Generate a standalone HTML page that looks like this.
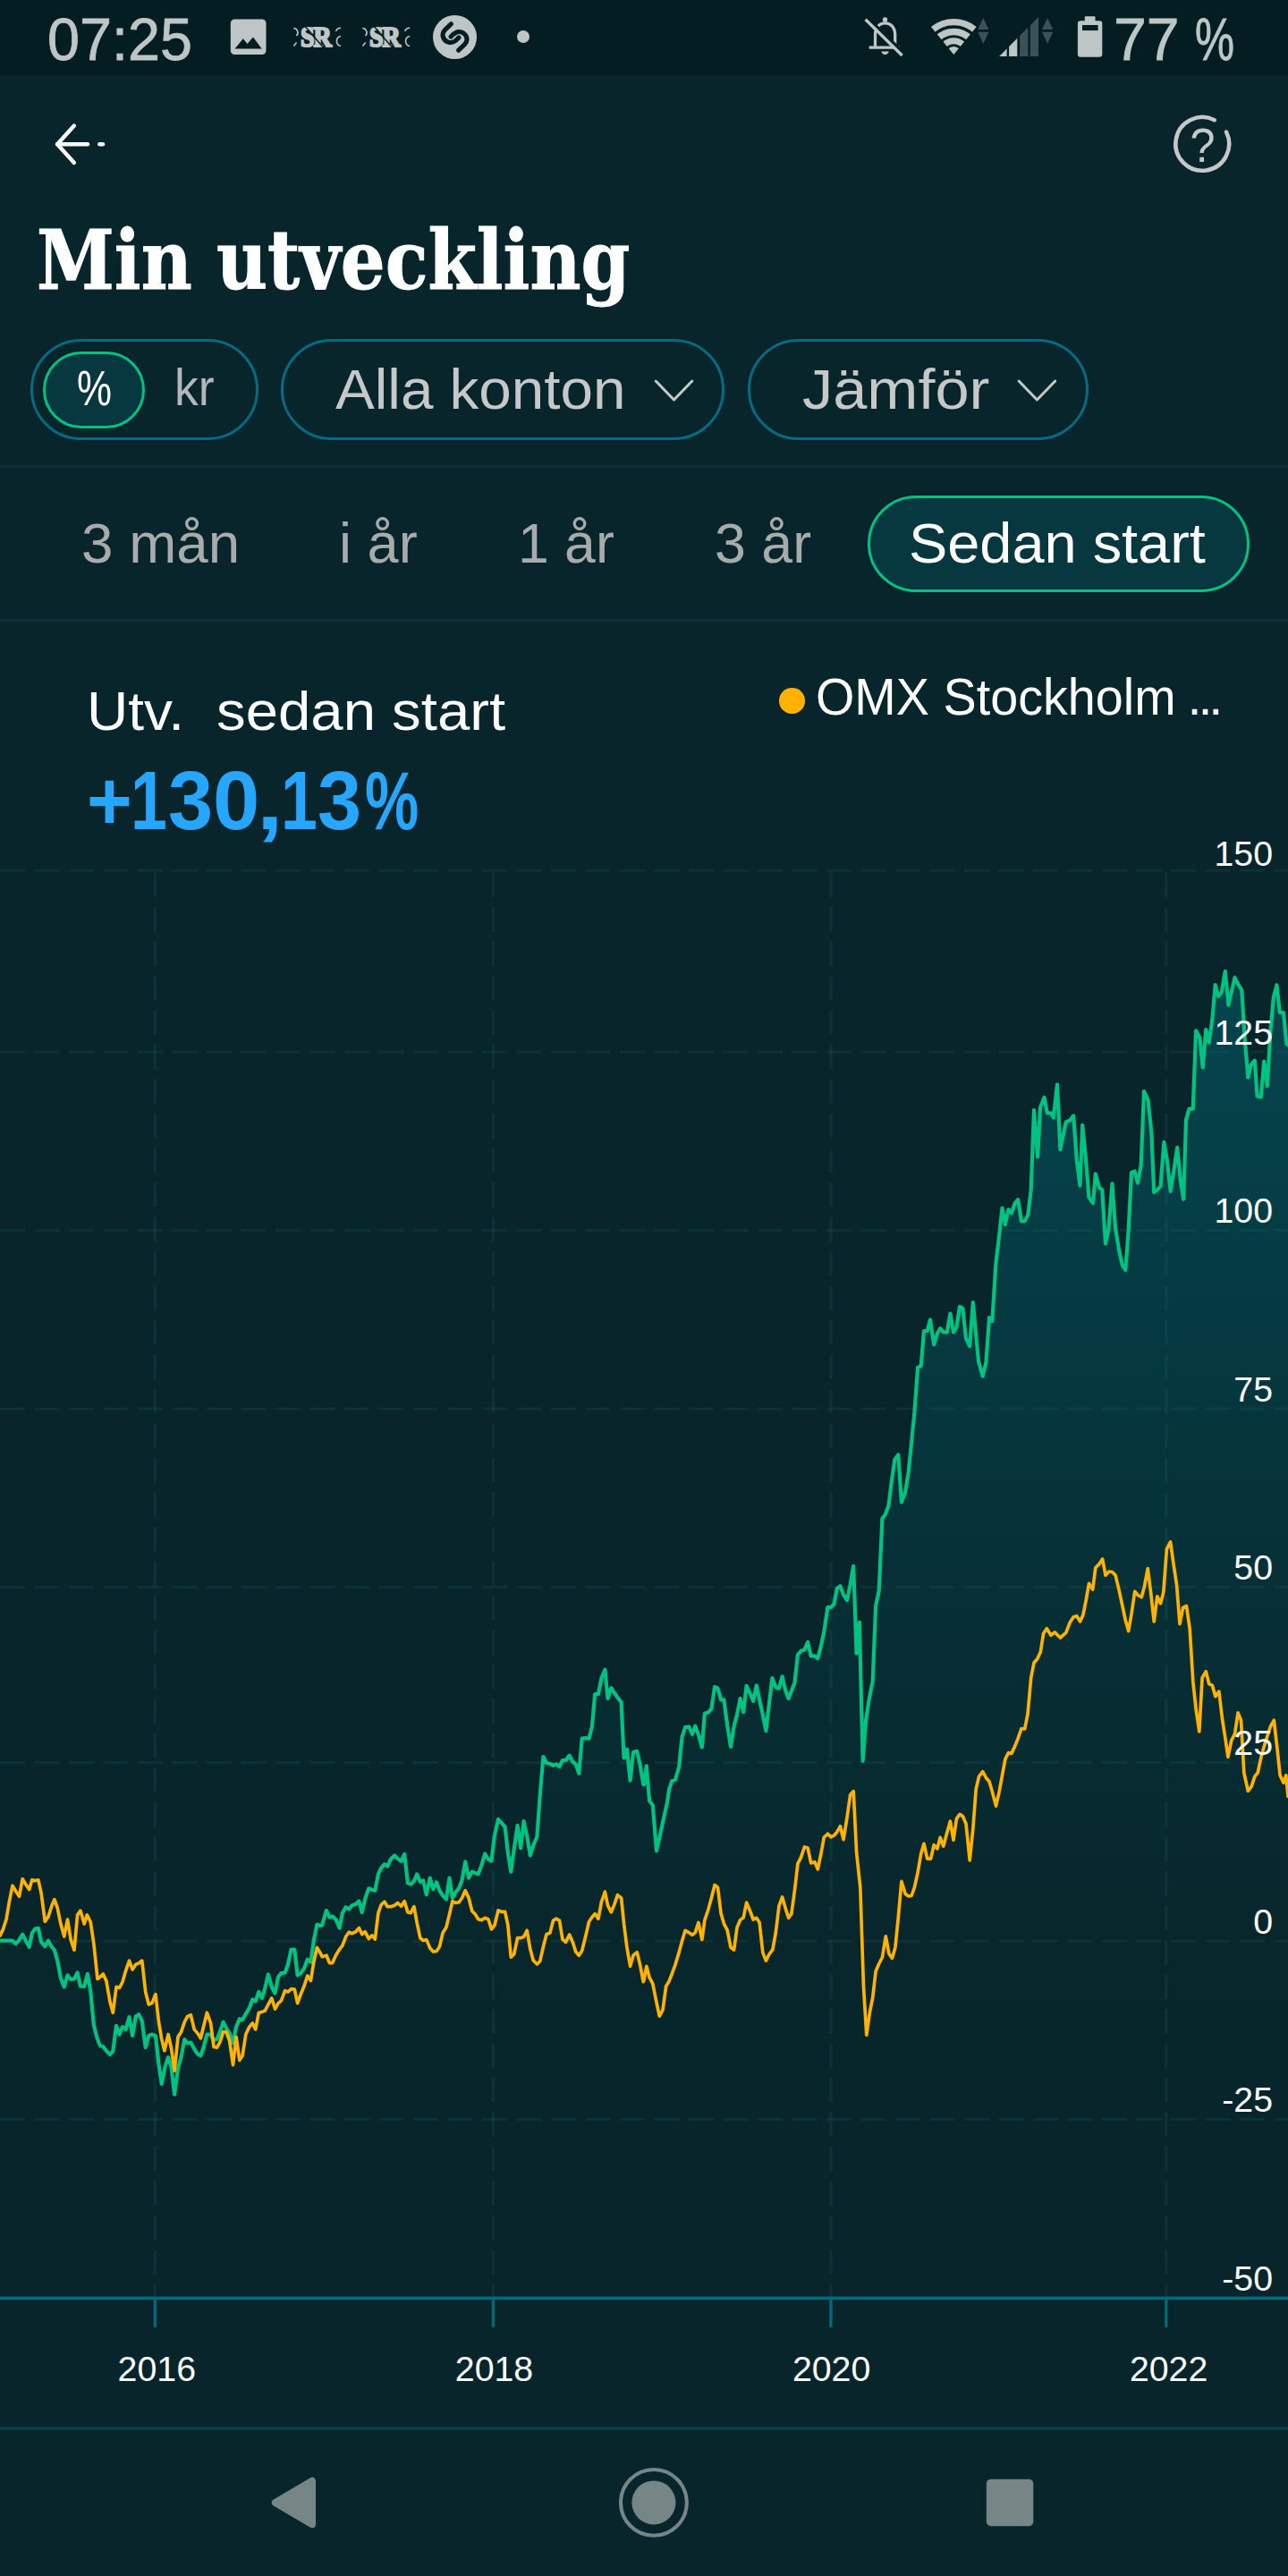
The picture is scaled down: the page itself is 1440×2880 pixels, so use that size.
<!DOCTYPE html>
<html lang="sv"><head><meta charset="utf-8"><title>Min utveckling</title>
<style>
html,body{margin:0;padding:0;}
body{width:1440px;height:2880px;background:#07252a;overflow:hidden;position:relative;font-family:'Liberation Sans', sans-serif;}
.t{position:absolute;white-space:pre;transform-origin:left center;}
.abs{position:absolute;}
.t span{display:inline-block;transform-origin:left center;}
#status{left:0;top:0;width:1440px;height:83.5px;background:#041d22;}
.pill{position:absolute;box-sizing:border-box;border:3px solid #066b82;border-radius:60px;}
.sep{position:absolute;left:0;width:1440px;height:3px;background:#0c3037;}
svg{position:absolute;left:0;top:0;}

</style></head><body>
<div id="status" class="abs"></div>
<div class="t" style="left:52.7px;top:10.7px;font-size:66px;line-height:66px;color:#bec6c5;transform:scaleX(0.98);-webkit-text-stroke:0.8px #bec6c5;">07:25</div>
<div class="t" style="left:1245.0px;top:10.7px;font-size:66px;line-height:66px;color:#bec6c5;-webkit-text-stroke:0.8px #bec6c5;"><span style="width:90.5px">77 </span><span style="transform:scaleX(0.75)">%</span></div>
<div class="t" style="left:335.7px;top:24.8px;font-size:32.5px;line-height:32.5px;color:#bec6c5;font-weight:700;font-family:'Liberation Serif', serif;transform:scaleX(0.86);letter-spacing:-1.2px;-webkit-text-stroke:2.2px #bec6c5;">SR</div>
<div class="t" style="left:412.8px;top:24.8px;font-size:32.5px;line-height:32.5px;color:#bec6c5;font-weight:700;font-family:'Liberation Serif', serif;transform:scaleX(0.86);letter-spacing:-1.2px;-webkit-text-stroke:2.2px #bec6c5;">SR</div>
<div class="t" style="left:41.0px;top:246.0px;font-size:91px;line-height:91px;color:#fff;font-weight:700;font-family:'DejaVu Serif Condensed', 'DejaVu Serif', 'Liberation Serif', serif;transform:scaleX(0.958);-webkit-text-stroke:0.9px #fff;">Min utveckling</div>
<div class="pill" style="left:34px;top:379px;width:254.5px;height:113px;"></div>
<div class="pill" style="left:48px;top:393px;width:114px;height:86px;border-color:#00c281;background:#07373f;"></div>
<div class="t" style="left:85.5px;top:406.5px;font-size:55.5px;line-height:55.5px;color:#fff;transform:scaleX(0.79);">%</div>
<div class="t" style="left:194.5px;top:404.7px;font-size:57px;line-height:57px;color:#b4b7b7;transform:scaleX(0.94);">kr</div>
<div class="pill" style="left:314px;top:379px;width:496px;height:113px;"></div>
<div class="t" style="left:375.0px;top:403.6px;font-size:63.3px;line-height:63.3px;color:#c6c8c8;transform:scaleX(1.036);">Alla konton</div>
<div class="pill" style="left:836px;top:379px;width:380.5px;height:113px;"></div>
<div class="t" style="left:897.0px;top:403.6px;font-size:63.3px;line-height:63.3px;color:#c6c8c8;transform:scaleX(1.082);">Jämför</div>
<div class="sep" style="top:520px"></div>
<div class="t" style="left:91.0px;top:575.7px;font-size:62.5px;line-height:62.5px;color:#a8abab;transform:scaleX(1.02);">3 mån</div>
<div class="t" style="left:379.0px;top:575.7px;font-size:62.5px;line-height:62.5px;color:#a8abab;transform:scaleX(1.01);">i år</div>
<div class="t" style="left:579.0px;top:575.7px;font-size:62.5px;line-height:62.5px;color:#a8abab;">1 år</div>
<div class="t" style="left:798.5px;top:575.7px;font-size:62.5px;line-height:62.5px;color:#a8abab;transform:scaleX(1.003);">3 år</div>
<div class="pill" style="left:969.5px;top:554px;width:427px;height:107.5px;border-color:#00c281;background:#07373f;"></div>
<div class="t" style="left:1015.5px;top:575.8px;font-size:63.3px;line-height:63.3px;color:#fff;transform:scaleX(1.025);">Sedan start</div>
<div class="sep" style="top:691.5px"></div>
<div class="t" style="left:96.5px;top:764.4px;font-size:61.5px;line-height:61.5px;color:#fff;"><span style="width:145.8px;transform:scaleX(1.04)">Utv.  </span><span style="transform:scaleX(1.062)">sedan start</span></div>
<div class="t" style="left:97.4px;top:849.3px;font-size:92px;line-height:92px;color:#26a6ff;font-weight:700;width:460px;height:92px;"><span style="width:48.5px;transform:scaleX(0.945)">+</span><span style="width:42.3px;transform:scaleX(0.798)">1</span><span style="width:50.2px;transform:scaleX(0.98)">3</span><span style="width:49.0px;transform:scaleX(1.022)">0</span><span style="width:26.2px;transform:scaleX(1.15)">,</span><span style="width:41.8px;transform:scaleX(0.798)">1</span><span style="width:52.3px;transform:scaleX(0.959)">3</span><span style="width:70.0px;transform:scaleX(0.736)">%</span></div>
<div class="abs" style="left:871px;top:769px;width:28.5px;height:28.5px;border-radius:50%;background:#ffb300;"></div>
<div class="t" style="left:912.3px;top:751.1px;font-size:56.5px;line-height:56.5px;color:#fff;"><span style="width:415.2px;transform:scaleX(0.9866)">OMX Stockholm </span><span style="font-size:58px;letter-spacing:-4.2px">...</span></div>
<svg width="1440" height="2880" viewBox="0 0 1440 2880">
<defs>
<linearGradient id="ga" x1="0" y1="1080" x2="0" y2="2400" gradientUnits="userSpaceOnUse">
<stop offset="0" stop-color="#007a8a" stop-opacity="0.38"/>
<stop offset="0.2424" stop-color="#007a8a" stop-opacity="0.27"/>
<stop offset="0.5" stop-color="#007a8a" stop-opacity="0.135"/>
<stop offset="0.8106" stop-color="#007a8a" stop-opacity="0.025"/>
<stop offset="1" stop-color="#007a8a" stop-opacity="0"/>
</linearGradient>
</defs>
<rect x="257.8" y="21.5" width="39.7" height="39.5" rx="4.5" fill="#bec6c5"/>
<path d="M262.5 54.5 L271.8 43.3 L276.5 49 L283 41.4 L292.7 54.5 Z" fill="#041d22"/>
<g fill="none" stroke="#bec6c5" stroke-width="1.6"><path d="M328.3 31.5 A5 5 0 0 1 331.5 40"/><path d="M328.3 51.5 L331.6 47.6"/><path d="M375.5 35 A6 6 0 0 1 381.0 31.3"/><path d="M381.0 40.5 A5.6 5.6 0 0 0 381.0 51.5"/></g>
<path d="M341.2 29.5 L361.6 53.3" stroke="#041d22" stroke-width="1.5"/>
<g fill="none" stroke="#bec6c5" stroke-width="1.6"><path d="M405.4 31.5 A5 5 0 0 1 408.6 40"/><path d="M405.4 51.5 L408.7 47.6"/><path d="M452.6 35 A6 6 0 0 1 458.1 31.3"/><path d="M458.1 40.5 A5.6 5.6 0 0 0 458.1 51.5"/></g>
<path d="M418.3 29.5 L438.7 53.3" stroke="#041d22" stroke-width="1.5"/>
<circle cx="508.5" cy="41.5" r="24.5" fill="#bec6c5"/>
<g transform="translate(508.5 41.5)" fill="none" stroke="#041d22" stroke-width="5.1" stroke-linecap="round"><path id="hk" d="M-4.2 -14.7 L-11 -8.1 C-15.5 -3.5 -13.5 3.5 -7.2 5.6 C-3.5 6.9 0.5 5 4.4 0.5"/><path d="M4.2 14.7 L11 8.1 C15.5 3.5 13.5 -3.5 7.2 -5.6 C3.5 -6.9 -0.5 -5 -4.4 -0.5"/></g>
<circle cx="585" cy="41" r="7" fill="#bec6c5"/>
<g fill="none" stroke="#bec6c5" stroke-width="3.3" stroke-linejoin="round"><path d="M978.5 53.1 L978.5 39 C978.5 31 983 25.8 989.5 25.8 C996 25.8 1000.7 31 1000.7 39 L1000.7 53.1"/><path d="M971.6 53.1 L1005.7 53.1"/></g>
<circle cx="989.5" cy="22" r="2.7" fill="#bec6c5"/>
<path d="M985.3 57.5 A4.3 4.3 0 0 0 993.7 57.5 Z" fill="#bec6c5"/>
<path d="M969.7 19.6 L1010.8 59.8" stroke="#041d22" stroke-width="3.4"/>
<path d="M967.6 21.8 L1008.6 62" stroke="#bec6c5" stroke-width="3.3"/>
<path d="M1066.3 60.9 L1040.9 30.0 A40.0 40.0 0 0 1 1091.7 30.0 Z" fill="#bec6c5"/>
<path d="M1044.1 39.4 A30.9 30.9 0 0 1 1088.5 39.4" fill="none" stroke="#041d22" stroke-width="3.4"/>
<path d="M1051.8 46.9 A20.1 20.1 0 0 1 1080.8 46.9" fill="none" stroke="#041d22" stroke-width="3.0"/>
<path d="M1058.9 53.7 A10.3 10.3 0 0 1 1073.7 53.7" fill="none" stroke="#041d22" stroke-width="2.8"/>
<path d="M1093.2 33 L1099.3 20.1 L1105.4 33 Z M1093.2 35.8 L1105.4 35.8 L1099.3 48.9 Z" fill="#3a5257"/>
<path d="M1165.0 33 L1171.1 20.1 L1177.2 33 Z M1165.0 35.8 L1177.2 35.8 L1171.1 48.9 Z" fill="#3a5257"/>
<clipPath id="sg"><path d="M1117.2 62.9 L1161 62.9 L1161 19 Z"/></clipPath>
<g clip-path="url(#sg)"><rect x="1117" y="19" width="8.6" height="44" fill="#bec6c5"/><rect x="1128.1" y="19" width="9.2" height="44" fill="#bec6c5"/><rect x="1140.1" y="19" width="9.2" height="44" fill="#3a5257"/><rect x="1151.8" y="19" width="9.3" height="44" fill="#3a5257"/></g>
<rect x="1204.9" y="23.2" width="27.4" height="40.5" rx="3.2" fill="#bec6c5"/><rect x="1212.8" y="18.2" width="11.7" height="6" rx="1" fill="#bec6c5"/>
<rect x="1210" y="28" width="17.6" height="6.1" fill="#041d22"/>
<g fill="none" stroke="#fff" stroke-width="4.4" stroke-linecap="round" stroke-linejoin="round"><path d="M82.9 140.6 L64.1 161.2 L82.9 181.9"/><path d="M64.1 161.2 L98 161.2"/><path d="M111.3 161.2 L115 161.2"/></g>
<path d="M1371.0 147.5 A29.9 29.9 0 1 1 1357.8 134.2" fill="none" stroke="#c6c8c8" stroke-width="4.5" stroke-linecap="round"/>
<text x="1344.4" y="181.4" text-anchor="middle" font-family="'Liberation Sans', sans-serif" font-size="53.5" fill="#c6c8c8" transform="translate(1344.4 0) scale(0.94 1) translate(-1344.4 0)">?</text>
<path d="M733.2 426 L753.5 447 L773.8 426" fill="none" stroke="#c6c8c8" stroke-width="3" stroke-linecap="round" stroke-linejoin="round"/>
<path d="M1139.1 426 L1159.4 447 L1179.7 426" fill="none" stroke="#c6c8c8" stroke-width="3" stroke-linecap="round" stroke-linejoin="round"/>
<line x1="0" y1="973.2" x2="1440" y2="973.2" stroke="rgba(60,150,160,0.105)" stroke-width="3.1" stroke-dasharray="28 10.5"/>
<line x1="0" y1="1176" x2="1440" y2="1176" stroke="rgba(60,150,160,0.105)" stroke-width="3.1" stroke-dasharray="28 10.5"/>
<line x1="0" y1="1375.5" x2="1440" y2="1375.5" stroke="rgba(60,150,160,0.105)" stroke-width="3.1" stroke-dasharray="28 10.5"/>
<line x1="0" y1="1575" x2="1440" y2="1575" stroke="rgba(60,150,160,0.105)" stroke-width="3.1" stroke-dasharray="28 10.5"/>
<line x1="0" y1="1774.5" x2="1440" y2="1774.5" stroke="rgba(60,150,160,0.105)" stroke-width="3.1" stroke-dasharray="28 10.5"/>
<line x1="0" y1="1970.6" x2="1440" y2="1970.6" stroke="rgba(60,150,160,0.105)" stroke-width="3.1" stroke-dasharray="28 10.5"/>
<line x1="0" y1="2170.3" x2="1440" y2="2170.3" stroke="rgba(60,150,160,0.105)" stroke-width="3.1" stroke-dasharray="28 10.5"/>
<line x1="0" y1="2369.5" x2="1440" y2="2369.5" stroke="rgba(60,150,160,0.105)" stroke-width="3.1" stroke-dasharray="28 10.5"/>
<line x1="173.3" y1="975.4" x2="173.3" y2="2567.6000000000004" stroke="rgba(60,150,160,0.105)" stroke-width="3.4" stroke-dasharray="27.5 11"/>
<line x1="173.3" y1="2569.3" x2="173.3" y2="2602" stroke="#00697d" stroke-width="3.3"/>
<line x1="551.4" y1="975.4" x2="551.4" y2="2567.6000000000004" stroke="rgba(60,150,160,0.105)" stroke-width="3.4" stroke-dasharray="27.5 11"/>
<line x1="551.4" y1="2569.3" x2="551.4" y2="2602" stroke="#00697d" stroke-width="3.3"/>
<line x1="929" y1="975.4" x2="929" y2="2567.6000000000004" stroke="rgba(60,150,160,0.105)" stroke-width="3.4" stroke-dasharray="27.5 11"/>
<line x1="929" y1="2569.3" x2="929" y2="2602" stroke="#00697d" stroke-width="3.3"/>
<line x1="1303.8" y1="975.4" x2="1303.8" y2="2567.6000000000004" stroke="rgba(60,150,160,0.105)" stroke-width="3.4" stroke-dasharray="27.5 11"/>
<line x1="1303.8" y1="2569.3" x2="1303.8" y2="2602" stroke="#00697d" stroke-width="3.3"/>
<polygon points="0.0,2169.7 14.0,2169.7 17.3,2173.1 21.0,2169.7 25.2,2162.7 28.8,2169.7 32.7,2176.7 35.8,2161.3 39.1,2156.6 42.8,2155.7 46.1,2171.1 50.3,2176.1 53.9,2169.7 57.9,2176.7 60.9,2180.3 64.3,2192.1 67.9,2211.6 71.8,2221.4 75.5,2208.3 79.1,2213.0 83.0,2212.5 86.6,2205.5 90.0,2220.6 94.2,2220.9 97.8,2206.9 101.2,2225.6 104.8,2263.4 108.2,2277.3 111.8,2287.1 115.2,2288.0 118.8,2292.7 123.0,2296.9 126.3,2293.5 130.0,2264.8 133.6,2274.5 137.0,2266.1 140.6,2268.9 144.5,2255.0 148.1,2275.9 151.8,2254.4 155.1,2252.2 158.8,2259.2 162.7,2289.1 166.3,2275.9 169.9,2274.5 173.9,2275.9 177.5,2308.1 180.8,2329.9 184.5,2310.9 188.1,2300.2 191.5,2310.9 195.1,2341.6 199.0,2312.3 202.6,2299.7 206.3,2280.1 209.6,2284.3 213.3,2283.5 217.2,2290.7 220.8,2296.3 224.4,2298.3 227.8,2288.5 231.4,2274.5 235.6,2274.5 239.0,2281.5 242.6,2279.6 246.0,2271.7 249.6,2260.6 253.0,2267.5 256.6,2273.1 260.5,2284.3 264.1,2266.1 267.8,2257.2 271.1,2258.3 274.8,2251.6 278.7,2245.2 282.3,2235.4 285.7,2237.6 289.3,2227.0 292.9,2234.0 296.3,2222.8 299.9,2207.5 303.8,2221.4 307.5,2228.4 311.1,2210.2 314.4,2206.1 318.6,2205.5 322.0,2196.3 325.6,2179.5 329.3,2179.5 332.6,2208.3 336.2,2206.1 340.2,2200.5 343.8,2190.7 347.4,2193.5 350.8,2169.7 354.4,2151.6 358.3,2153.0 360.0,2152.7 365.0,2135.9 368.4,2143.5 371.7,2142.4 375.4,2145.7 379.6,2155.5 382.9,2138.7 386.6,2132.3 390.2,2134.5 393.5,2130.3 397.7,2128.9 401.4,2125.6 404.7,2137.9 408.1,2123.4 412.3,2111.3 415.9,2112.7 419.3,2113.6 422.9,2095.4 426.2,2088.4 429.9,2084.2 433.2,2086.5 436.9,2078.6 441.1,2074.4 444.7,2078.1 448.6,2080.9 452.2,2073.0 455.9,2105.2 459.2,2106.6 462.9,2103.2 466.2,2095.4 469.8,2103.8 473.2,2102.4 476.8,2118.3 480.7,2099.6 484.4,2112.2 488.0,2104.3 491.4,2113.6 495.0,2119.2 498.9,2123.4 502.5,2099.6 505.9,2122.0 509.5,2115.5 513.2,2110.8 516.5,2102.4 520.2,2081.4 524.1,2099.6 527.7,2092.6 531.3,2094.0 534.7,2095.4 538.3,2085.6 542.2,2072.5 545.9,2078.6 549.5,2080.6 552.9,2052.1 557.0,2033.9 560.7,2038.1 564.6,2042.3 567.7,2070.2 571.3,2092.6 574.7,2067.5 578.6,2040.9 582.2,2066.1 585.6,2036.1 589.2,2052.9 592.8,2074.4 596.2,2063.3 600.4,2053.5 603.7,2007.4 607.4,1964.0 611.0,1971.0 614.9,1971.9 618.5,1973.8 621.9,1972.4 625.5,1975.2 628.9,1968.2 632.5,1968.2 636.7,1962.6 640.3,1969.6 643.7,1972.4 647.3,1982.8 650.7,1943.6 654.9,1943.1 658.5,1943.6 661.9,1930.5 665.2,1894.2 668.9,1894.2 672.5,1876.0 676.4,1866.8 679.5,1898.9 683.4,1887.2 687.0,1892.8 690.4,1897.8 694.6,1903.1 697.6,1965.4 701.0,1955.7 704.6,1990.6 708.0,1959.0 712.2,1957.9 715.8,1973.8 719.2,1994.8 720.0,1995.3 722.8,1974.4 726.1,2013.5 729.8,2018.3 734.0,2069.4 746.0,2014.9 748.0,2000.9 751.3,1991.1 754.9,1989.8 759.1,1975.8 762.5,1942.2 766.1,1931.1 770.3,1930.5 773.9,1938.9 777.3,1929.7 780.9,1939.4 784.8,1953.4 787.9,1915.7 792.1,1914.3 795.5,1910.1 799.1,1885.8 802.5,1887.7 806.1,1900.3 809.4,1900.3 813.1,1928.3 817.0,1952.9 820.6,1929.7 824.0,1917.1 827.6,1898.9 831.2,1914.3 834.6,1884.9 838.2,1892.5 842.1,1901.7 845.8,1884.4 849.1,1900.3 852.8,1917.1 856.4,1935.2 859.8,1905.9 863.4,1876.0 867.3,1886.3 870.9,1887.7 874.6,1874.3 877.9,1889.1 881.6,1898.9 884.9,1890.5 888.5,1881.3 891.9,1850.0 895.5,1845.8 899.4,1844.4 903.1,1836.0 906.7,1851.4 910.9,1851.4 914.3,1854.2 917.9,1840.2 921.2,1824.8 925.4,1796.9 929.1,1796.9 932.4,1793.5 935.8,1775.9 939.4,1773.1 943.0,1782.9 947.0,1789.1 950.6,1771.7 954.2,1750.8 957.6,1848.6 960.9,1813.7 964.6,1968.8 968.2,1922.7 971.6,1900.3 975.7,1879.3 979.1,1795.5 982.7,1778.7 986.4,1697.7 989.7,1693.5 993.4,1683.7 996.7,1657.1 1000.3,1632.0 1004.3,1626.4 1007.9,1679.5 1012.1,1668.3 1015.7,1646.0 1019.1,1612.4 1022.4,1578.9 1026.1,1528.6 1029.7,1527.2 1033.0,1488.0 1036.7,1488.0 1040.0,1475.5 1044.2,1503.4 1047.9,1490.8 1051.2,1485.2 1054.8,1489.4 1058.8,1489.4 1062.4,1468.5 1066.0,1489.4 1069.4,1483.9 1073.0,1460.9 1076.4,1462.9 1080.0,1496.4 1084.2,1505.1 1087.8,1456.2 1094.0,1521.9 1098.7,1538.7 1102.4,1523.3 1106.0,1473.0 1109.3,1477.2 1113.5,1411.5 1117.2,1380.7 1120.5,1350.6 1123.9,1369.0 1127.5,1352.2 1130.9,1356.1 1134.5,1345.8 1138.1,1341.1 1142.0,1365.4 1145.7,1365.4 1149.3,1358.4 1152.7,1330.4 1156.0,1241.0 1160.2,1293.5 1163.0,1238.2 1167.5,1227.0 1170.8,1244.3 1175.0,1244.3 1177.8,1249.4 1182.0,1212.5 1185.4,1285.2 1191.8,1254.4 1196.0,1252.7 1200.2,1247.4 1203.8,1296.9 1207.5,1325.4 1210.2,1257.8 1213.6,1291.3 1217.5,1338.8 1222.0,1345.0 1224.8,1312.3 1229.0,1327.6 1232.3,1330.4 1236.0,1390.5 1239.3,1375.2 1243.5,1323.4 1247.1,1373.8 1251.1,1397.5 1254.7,1414.3 1258.3,1419.9 1261.7,1375.2 1265.0,1310.9 1268.7,1309.5 1272.0,1322.6 1275.7,1302.5 1279.0,1220.0 1283.5,1229.8 1287.4,1266.1 1290.2,1333.2 1293.8,1330.4 1297.5,1326.2 1301.4,1276.8 1305.0,1298.3 1308.6,1331.8 1312.5,1308.1 1316.2,1282.9 1319.8,1319.3 1323.2,1340.8 1326.0,1252.2 1329.6,1239.6 1333.8,1239.6 1337.1,1152.4 1341.3,1159.9 1344.7,1193.5 1348.3,1151.0 1351.7,1165.5 1355.3,1140.4 1358.7,1101.2 1362.3,1113.8 1365.7,1109.6 1369.8,1085.9 1373.5,1123.6 1380.5,1092.9 1384.7,1101.2 1388.3,1106.8 1391.6,1159.9 1395.3,1204.7 1398.6,1190.7 1402.8,1185.7 1405.6,1225.6 1409.8,1226.5 1413.2,1186.5 1416.8,1214.4 1420.4,1153.0 1423.8,1115.2 1427.4,1101.2 1430.8,1132.0 1435.0,1132.0 1438.3,1166.9 1440.0,1168.3 1440,2569.3 0,2569.3" fill="url(#ga)"/>
<line x1="0" y1="2569.3" x2="1440" y2="2569.3" stroke="#00697d" stroke-width="3.8"/>
<polyline points="0.0,2169.7 14.0,2169.7 17.3,2173.1 21.0,2169.7 25.2,2162.7 28.8,2169.7 32.7,2176.7 35.8,2161.3 39.1,2156.6 42.8,2155.7 46.1,2171.1 50.3,2176.1 53.9,2169.7 57.9,2176.7 60.9,2180.3 64.3,2192.1 67.9,2211.6 71.8,2221.4 75.5,2208.3 79.1,2213.0 83.0,2212.5 86.6,2205.5 90.0,2220.6 94.2,2220.9 97.8,2206.9 101.2,2225.6 104.8,2263.4 108.2,2277.3 111.8,2287.1 115.2,2288.0 118.8,2292.7 123.0,2296.9 126.3,2293.5 130.0,2264.8 133.6,2274.5 137.0,2266.1 140.6,2268.9 144.5,2255.0 148.1,2275.9 151.8,2254.4 155.1,2252.2 158.8,2259.2 162.7,2289.1 166.3,2275.9 169.9,2274.5 173.9,2275.9 177.5,2308.1 180.8,2329.9 184.5,2310.9 188.1,2300.2 191.5,2310.9 195.1,2341.6 199.0,2312.3 202.6,2299.7 206.3,2280.1 209.6,2284.3 213.3,2283.5 217.2,2290.7 220.8,2296.3 224.4,2298.3 227.8,2288.5 231.4,2274.5 235.6,2274.5 239.0,2281.5 242.6,2279.6 246.0,2271.7 249.6,2260.6 253.0,2267.5 256.6,2273.1 260.5,2284.3 264.1,2266.1 267.8,2257.2 271.1,2258.3 274.8,2251.6 278.7,2245.2 282.3,2235.4 285.7,2237.6 289.3,2227.0 292.9,2234.0 296.3,2222.8 299.9,2207.5 303.8,2221.4 307.5,2228.4 311.1,2210.2 314.4,2206.1 318.6,2205.5 322.0,2196.3 325.6,2179.5 329.3,2179.5 332.6,2208.3 336.2,2206.1 340.2,2200.5 343.8,2190.7 347.4,2193.5 350.8,2169.7 354.4,2151.6 358.3,2153.0 360.0,2152.7 365.0,2135.9 368.4,2143.5 371.7,2142.4 375.4,2145.7 379.6,2155.5 382.9,2138.7 386.6,2132.3 390.2,2134.5 393.5,2130.3 397.7,2128.9 401.4,2125.6 404.7,2137.9 408.1,2123.4 412.3,2111.3 415.9,2112.7 419.3,2113.6 422.9,2095.4 426.2,2088.4 429.9,2084.2 433.2,2086.5 436.9,2078.6 441.1,2074.4 444.7,2078.1 448.6,2080.9 452.2,2073.0 455.9,2105.2 459.2,2106.6 462.9,2103.2 466.2,2095.4 469.8,2103.8 473.2,2102.4 476.8,2118.3 480.7,2099.6 484.4,2112.2 488.0,2104.3 491.4,2113.6 495.0,2119.2 498.9,2123.4 502.5,2099.6 505.9,2122.0 509.5,2115.5 513.2,2110.8 516.5,2102.4 520.2,2081.4 524.1,2099.6 527.7,2092.6 531.3,2094.0 534.7,2095.4 538.3,2085.6 542.2,2072.5 545.9,2078.6 549.5,2080.6 552.9,2052.1 557.0,2033.9 560.7,2038.1 564.6,2042.3 567.7,2070.2 571.3,2092.6 574.7,2067.5 578.6,2040.9 582.2,2066.1 585.6,2036.1 589.2,2052.9 592.8,2074.4 596.2,2063.3 600.4,2053.5 603.7,2007.4 607.4,1964.0 611.0,1971.0 614.9,1971.9 618.5,1973.8 621.9,1972.4 625.5,1975.2 628.9,1968.2 632.5,1968.2 636.7,1962.6 640.3,1969.6 643.7,1972.4 647.3,1982.8 650.7,1943.6 654.9,1943.1 658.5,1943.6 661.9,1930.5 665.2,1894.2 668.9,1894.2 672.5,1876.0 676.4,1866.8 679.5,1898.9 683.4,1887.2 687.0,1892.8 690.4,1897.8 694.6,1903.1 697.6,1965.4 701.0,1955.7 704.6,1990.6 708.0,1959.0 712.2,1957.9 715.8,1973.8 719.2,1994.8 720.0,1995.3 722.8,1974.4 726.1,2013.5 729.8,2018.3 734.0,2069.4 746.0,2014.9 748.0,2000.9 751.3,1991.1 754.9,1989.8 759.1,1975.8 762.5,1942.2 766.1,1931.1 770.3,1930.5 773.9,1938.9 777.3,1929.7 780.9,1939.4 784.8,1953.4 787.9,1915.7 792.1,1914.3 795.5,1910.1 799.1,1885.8 802.5,1887.7 806.1,1900.3 809.4,1900.3 813.1,1928.3 817.0,1952.9 820.6,1929.7 824.0,1917.1 827.6,1898.9 831.2,1914.3 834.6,1884.9 838.2,1892.5 842.1,1901.7 845.8,1884.4 849.1,1900.3 852.8,1917.1 856.4,1935.2 859.8,1905.9 863.4,1876.0 867.3,1886.3 870.9,1887.7 874.6,1874.3 877.9,1889.1 881.6,1898.9 884.9,1890.5 888.5,1881.3 891.9,1850.0 895.5,1845.8 899.4,1844.4 903.1,1836.0 906.7,1851.4 910.9,1851.4 914.3,1854.2 917.9,1840.2 921.2,1824.8 925.4,1796.9 929.1,1796.9 932.4,1793.5 935.8,1775.9 939.4,1773.1 943.0,1782.9 947.0,1789.1 950.6,1771.7 954.2,1750.8 957.6,1848.6 960.9,1813.7 964.6,1968.8 968.2,1922.7 971.6,1900.3 975.7,1879.3 979.1,1795.5 982.7,1778.7 986.4,1697.7 989.7,1693.5 993.4,1683.7 996.7,1657.1 1000.3,1632.0 1004.3,1626.4 1007.9,1679.5 1012.1,1668.3 1015.7,1646.0 1019.1,1612.4 1022.4,1578.9 1026.1,1528.6 1029.7,1527.2 1033.0,1488.0 1036.7,1488.0 1040.0,1475.5 1044.2,1503.4 1047.9,1490.8 1051.2,1485.2 1054.8,1489.4 1058.8,1489.4 1062.4,1468.5 1066.0,1489.4 1069.4,1483.9 1073.0,1460.9 1076.4,1462.9 1080.0,1496.4 1084.2,1505.1 1087.8,1456.2 1094.0,1521.9 1098.7,1538.7 1102.4,1523.3 1106.0,1473.0 1109.3,1477.2 1113.5,1411.5 1117.2,1380.7 1120.5,1350.6 1123.9,1369.0 1127.5,1352.2 1130.9,1356.1 1134.5,1345.8 1138.1,1341.1 1142.0,1365.4 1145.7,1365.4 1149.3,1358.4 1152.7,1330.4 1156.0,1241.0 1160.2,1293.5 1163.0,1238.2 1167.5,1227.0 1170.8,1244.3 1175.0,1244.3 1177.8,1249.4 1182.0,1212.5 1185.4,1285.2 1191.8,1254.4 1196.0,1252.7 1200.2,1247.4 1203.8,1296.9 1207.5,1325.4 1210.2,1257.8 1213.6,1291.3 1217.5,1338.8 1222.0,1345.0 1224.8,1312.3 1229.0,1327.6 1232.3,1330.4 1236.0,1390.5 1239.3,1375.2 1243.5,1323.4 1247.1,1373.8 1251.1,1397.5 1254.7,1414.3 1258.3,1419.9 1261.7,1375.2 1265.0,1310.9 1268.7,1309.5 1272.0,1322.6 1275.7,1302.5 1279.0,1220.0 1283.5,1229.8 1287.4,1266.1 1290.2,1333.2 1293.8,1330.4 1297.5,1326.2 1301.4,1276.8 1305.0,1298.3 1308.6,1331.8 1312.5,1308.1 1316.2,1282.9 1319.8,1319.3 1323.2,1340.8 1326.0,1252.2 1329.6,1239.6 1333.8,1239.6 1337.1,1152.4 1341.3,1159.9 1344.7,1193.5 1348.3,1151.0 1351.7,1165.5 1355.3,1140.4 1358.7,1101.2 1362.3,1113.8 1365.7,1109.6 1369.8,1085.9 1373.5,1123.6 1380.5,1092.9 1384.7,1101.2 1388.3,1106.8 1391.6,1159.9 1395.3,1204.7 1398.6,1190.7 1402.8,1185.7 1405.6,1225.6 1409.8,1226.5 1413.2,1186.5 1416.8,1214.4 1420.4,1153.0 1423.8,1115.2 1427.4,1101.2 1430.8,1132.0 1435.0,1132.0 1438.3,1166.9 1440.0,1168.3" fill="none" stroke="#00c281" stroke-width="4.2" stroke-linejoin="round" stroke-linecap="round"/>
<polyline points="0.0,2164.1 3.4,2157.1 7.0,2146.0 10.6,2125.0 14.0,2108.2 17.3,2113.8 21.5,2120.2 25.2,2100.7 28.8,2106.8 32.7,2112.4 35.8,2101.8 39.1,2102.6 42.8,2101.8 46.1,2116.6 50.3,2148.2 53.9,2143.2 57.9,2130.6 60.9,2123.6 64.3,2133.4 67.9,2151.0 71.8,2165.0 75.5,2146.0 79.1,2168.3 83.0,2180.1 86.6,2140.9 90.0,2136.2 94.2,2151.0 97.3,2140.9 101.2,2148.8 104.8,2172.5 109.0,2212.5 112.6,2209.7 115.2,2206.9 118.8,2214.4 123.0,2238.2 126.3,2250.2 130.0,2221.4 133.6,2222.3 137.0,2215.8 140.6,2203.3 144.5,2192.1 148.1,2201.9 151.8,2196.3 155.1,2194.9 158.8,2192.1 162.7,2227.0 166.3,2241.0 169.9,2239.6 173.9,2229.8 177.5,2260.6 180.8,2280.1 183.9,2292.7 188.1,2274.5 191.5,2289.9 195.1,2315.1 199.0,2277.3 202.6,2271.7 206.3,2260.6 209.6,2254.4 213.3,2252.7 217.2,2268.9 220.8,2273.1 224.4,2278.7 227.8,2264.8 231.4,2250.2 235.6,2262.0 239.0,2288.5 242.6,2289.1 246.0,2282.9 249.6,2271.7 253.0,2271.7 256.6,2281.5 260.5,2308.6 264.1,2277.3 267.8,2303.3 271.1,2298.3 274.8,2274.5 278.7,2266.1 282.3,2262.0 285.7,2268.9 289.3,2250.2 292.9,2249.4 296.3,2248.0 299.9,2241.0 303.8,2234.0 307.5,2246.0 311.1,2239.6 314.4,2236.8 318.6,2225.6 322.0,2227.0 325.6,2223.7 329.3,2224.2 332.6,2239.6 336.2,2229.8 340.2,2220.0 343.8,2208.9 347.4,2214.4 350.8,2193.5 354.4,2177.5 358.3,2183.7 360.0,2187.6 365.0,2186.2 368.4,2194.6 371.7,2194.6 375.4,2186.2 379.6,2179.3 382.9,2175.1 386.6,2165.3 390.2,2160.2 393.5,2161.6 397.7,2159.7 401.4,2155.5 404.7,2162.5 408.1,2159.7 412.3,2167.5 415.9,2163.9 419.3,2168.1 422.9,2138.7 426.2,2129.5 429.9,2126.1 433.2,2131.7 436.9,2131.7 441.1,2130.3 444.7,2127.5 448.6,2131.2 452.2,2125.6 455.9,2137.9 459.2,2138.7 462.9,2131.7 466.2,2149.9 469.8,2166.7 473.2,2169.5 476.8,2168.6 480.7,2177.9 484.4,2182.0 488.0,2181.5 491.4,2176.5 495.0,2161.1 498.9,2154.7 502.5,2140.1 505.9,2125.6 509.5,2127.5 513.2,2126.7 516.5,2122.0 520.2,2113.6 524.1,2122.0 527.7,2136.5 531.3,2140.1 534.7,2145.7 538.3,2146.6 542.2,2144.3 545.9,2145.7 549.5,2156.9 552.9,2152.7 557.0,2135.9 560.7,2137.3 564.6,2137.3 567.7,2151.3 571.3,2188.2 574.7,2184.8 578.6,2166.7 582.2,2166.7 585.6,2165.3 589.2,2158.3 592.8,2179.3 596.2,2191.8 600.4,2196.0 603.7,2192.7 607.4,2176.5 611.0,2162.5 614.9,2161.1 618.5,2147.1 621.9,2145.2 625.5,2147.1 628.9,2168.1 632.5,2171.4 636.7,2163.0 640.3,2171.4 643.7,2182.0 647.3,2186.2 650.7,2180.7 654.9,2163.9 658.5,2148.5 661.9,2143.5 665.2,2139.6 668.9,2145.2 672.5,2126.1 676.4,2115.0 679.5,2130.3 683.4,2137.9 687.0,2128.9 690.4,2118.6 694.6,2122.0 697.6,2151.3 701.0,2177.9 704.6,2198.3 708.0,2186.2 712.2,2182.6 715.8,2197.4 719.2,2215.6 720.0,2213.7 722.8,2198.3 726.1,2210.9 729.8,2217.9 734.0,2238.8 737.3,2254.2 741.0,2247.2 744.6,2220.7 748.0,2215.1 751.3,2206.7 754.9,2196.9 759.1,2182.9 762.5,2170.3 766.1,2158.3 770.3,2160.6 773.9,2163.4 777.3,2160.6 780.9,2149.4 784.8,2168.4 787.9,2146.6 792.1,2134.0 795.5,2121.4 799.1,2107.5 802.5,2110.2 806.1,2139.6 809.4,2150.8 813.1,2157.8 817.0,2177.3 820.6,2180.1 824.0,2155.0 827.6,2146.6 831.2,2143.8 834.6,2127.0 838.2,2135.4 842.1,2146.0 845.8,2144.3 849.1,2149.4 852.8,2182.9 856.4,2192.1 859.8,2185.2 863.9,2179.6 867.3,2160.6 870.9,2131.2 874.6,2120.9 877.9,2132.6 881.6,2144.3 884.9,2139.6 888.5,2113.0 891.9,2083.7 895.5,2076.7 899.4,2065.0 903.1,2066.1 906.7,2082.9 910.9,2081.7 914.3,2089.8 917.9,2072.5 921.2,2054.3 925.4,2050.2 929.1,2053.8 932.4,2052.1 935.8,2048.2 939.4,2041.8 943.0,2056.6 947.0,2032.0 950.6,2006.8 954.2,2002.6 957.6,2071.1 961.8,2110.2 965.4,2219.3 968.8,2275.2 972.4,2250.0 975.7,2233.2 979.1,2203.9 982.7,2195.5 986.4,2188.5 990.3,2164.8 993.9,2184.3 997.5,2189.3 1000.9,2177.3 1004.3,2143.8 1007.9,2103.3 1012.1,2117.2 1015.7,2120.0 1019.1,2119.5 1022.4,2110.2 1026.1,2093.5 1029.7,2072.5 1033.0,2061.3 1036.7,2078.1 1040.6,2078.1 1044.2,2062.7 1047.9,2066.9 1051.2,2054.3 1054.8,2064.1 1058.8,2048.8 1062.4,2036.2 1066.0,2057.1 1069.4,2033.4 1073.0,2028.4 1076.4,2030.6 1080.0,2039.0 1084.2,2079.8 1087.8,2044.8 1091.2,2000.1 1094.5,1986.1 1098.7,1980.6 1102.4,1987.5 1106.0,1991.7 1109.3,2002.9 1113.5,2019.1 1117.2,2002.9 1120.5,1984.8 1123.9,1966.6 1127.5,1959.6 1130.9,1960.4 1134.5,1952.6 1138.1,1943.7 1142.0,1932.5 1145.7,1933.0 1149.0,1916.3 1152.7,1875.7 1156.0,1859.0 1159.7,1854.8 1163.3,1847.0 1166.6,1826.3 1170.3,1820.7 1175.0,1828.2 1179.2,1824.9 1185.4,1831.0 1191.8,1825.4 1196.0,1814.3 1200.2,1807.8 1203.8,1806.7 1207.5,1812.9 1210.8,1805.9 1214.2,1789.1 1217.5,1770.4 1221.7,1777.1 1224.8,1752.8 1229.0,1748.6 1232.6,1743.0 1236.0,1761.1 1239.9,1757.0 1243.5,1757.5 1247.1,1761.1 1251.1,1777.9 1254.7,1794.7 1258.3,1811.5 1261.7,1823.5 1265.0,1804.5 1268.7,1779.3 1272.3,1783.5 1276.2,1785.7 1279.6,1773.2 1283.2,1753.6 1286.8,1782.1 1290.2,1812.9 1293.8,1784.9 1297.5,1792.7 1300.8,1780.2 1304.4,1731.8 1308.6,1724.0 1312.0,1748.6 1315.6,1772.3 1319.0,1815.7 1322.6,1797.5 1326.5,1795.5 1330.2,1821.2 1333.8,1879.9 1337.1,1910.7 1340.8,1935.8 1344.1,1875.7 1348.3,1868.8 1351.7,1882.7 1355.3,1884.1 1358.9,1896.7 1362.9,1891.1 1366.5,1921.9 1369.8,1942.8 1372.9,1964.3 1376.8,1945.6 1380.5,1938.6 1384.1,1914.9 1387.5,1923.3 1390.8,1982.0 1395.3,2002.4 1399.2,1997.3 1402.8,1986.1 1406.2,1982.0 1409.8,1965.2 1413.2,1952.6 1416.8,1941.4 1420.4,1930.2 1424.3,1923.3 1428.0,1955.4 1431.1,1984.8 1435.0,1993.1 1437.8,1984.8 1440.0,2008.5" fill="none" stroke="#ffb300" stroke-width="3.7" stroke-linejoin="round" stroke-linecap="round"/>
<g font-family="'Liberation Sans', sans-serif" font-size="39.3" fill="#fff">
<text x="1423" y="967.6" text-anchor="end">150</text>
<text x="1423" y="1167.8" text-anchor="end">125</text>
<text x="1423" y="1367.3" text-anchor="end">100</text>
<text x="1423" y="1566.8" text-anchor="end">75</text>
<text x="1423" y="1766.3" text-anchor="end">50</text>
<text x="1423" y="1962.4" text-anchor="end">25</text>
<text x="1423" y="2162.1" text-anchor="end">0</text>
<text x="1423" y="2361.3" text-anchor="end">-25</text>
<text x="1423" y="2561.1" text-anchor="end">-50</text>
<text x="175.3" y="2662.1" text-anchor="middle">2016</text>
<text x="552.5" y="2662.1" text-anchor="middle">2018</text>
<text x="929.6" y="2662.1" text-anchor="middle">2020</text>
<text x="1306.6" y="2662.1" text-anchor="middle">2022</text>
</g>
<path d="M307.8 2798 L349 2773.8 L349 2822.2 Z" fill="#768687" stroke="#768687" stroke-width="8" stroke-linejoin="round"/>
<circle cx="730.9" cy="2797.9" r="36.9" fill="none" stroke="#768687" stroke-width="4.1"/><circle cx="730.9" cy="2797.9" r="24.5" fill="#768687"/>
<rect x="1102.8" y="2771.7" width="52.5" height="52.5" rx="5" fill="#768687"/>
</svg>
<div class="sep" style="top:2712.5px;height:4px;background:#083c46"></div>
</body></html>
